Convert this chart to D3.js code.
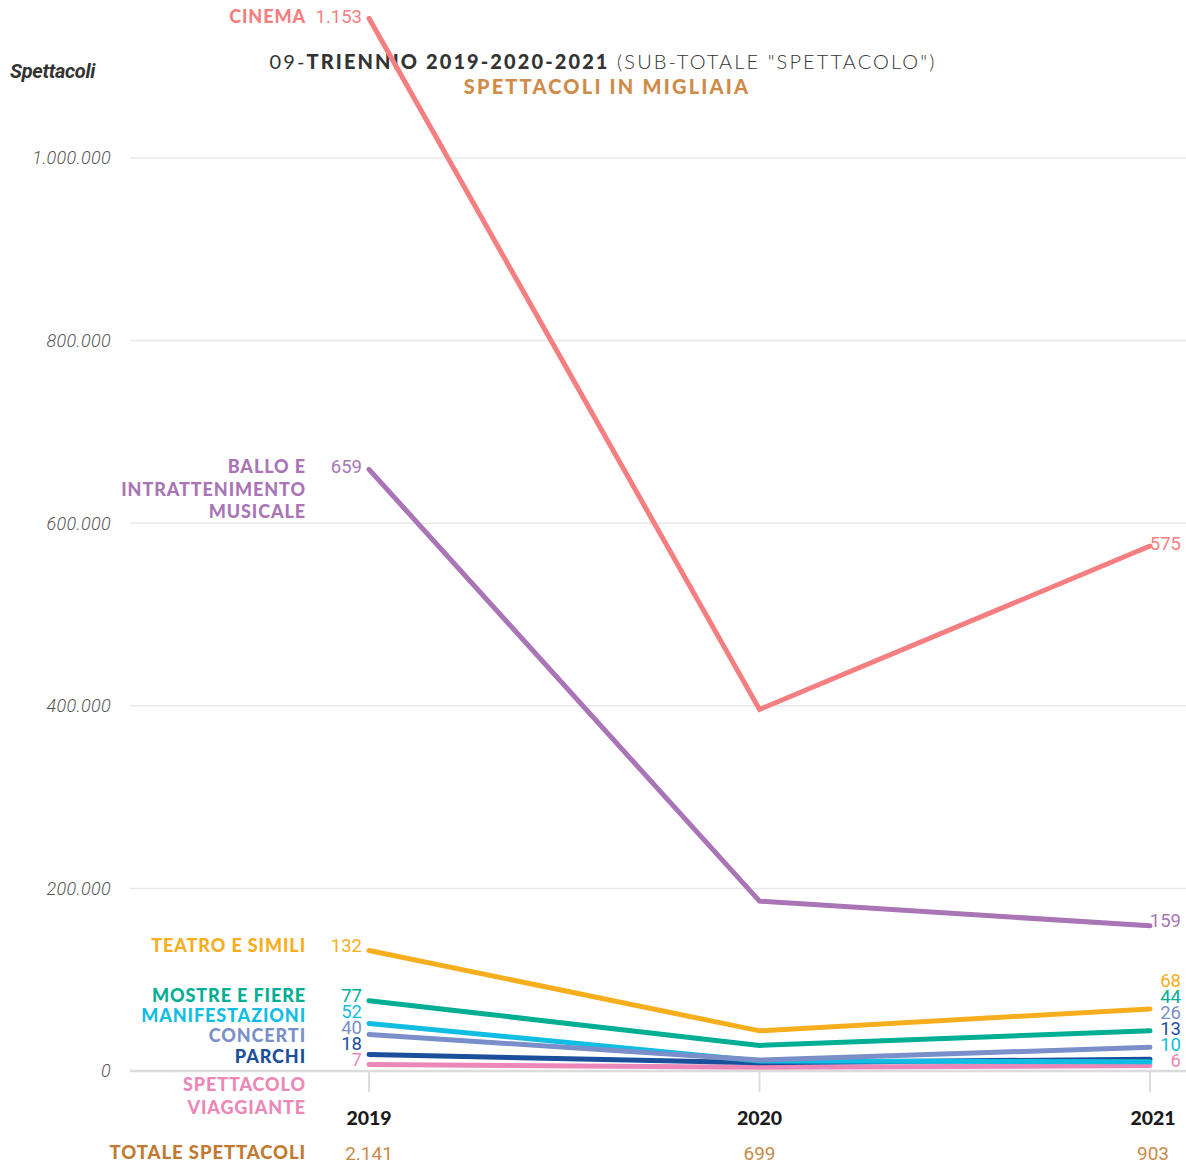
<!DOCTYPE html>
<html><head><meta charset="utf-8">
<script src="https://cdn.jsdelivr.net/npm/d3@7"></script>
<style>
body{margin:0;background:#fff;}
svg{display:block;}
</style></head>
<body>
<svg id="chart" width="1186" height="1164"></svg>
<script>
// ---- DATA ----
const years = ["2019", "2020", "2021"];
const categories = ["Cinema", "Ballo e intrattenimento musicale", "Teatro e simili", "Mostre e fiere", "Manifestazioni", "Concerti", "Parchi", "Spettacolo viaggiante"];
const values2019 = [1153000, 659000, 132000, 77000, 52000, 40000, 18000, 7000];
const values2020 = [396000, 186000, 44000, 28000, 11000, 12000, 9000, 4000];
const values2021 = [575000, 159000, 68000, 44000, 10000, 26000, 13000, 6000];
const totals = ["2.141", "699", "903"];
const yTicks = [0, 200000, 400000, 600000, 800000, 1000000];
const yTickLabels = ["0", "200.000", "400.000", "600.000", "800.000", "1.000.000"];

// ---- STYLE / LAYOUT ----
const colors = ["#f47e80", "#a975b6", "#f6ae1c", "#00ae94", "#10bde3", "#7a8fc9", "#1b4e9b", "#eb88b8"];
const drawOrder = [7, 6, 4, 5, 3, 2, 1, 0];
const leftNameLines = [["CINEMA"], ["BALLO E", "INTRATTENIMENTO", "MUSICALE"], ["TEATRO E SIMILI"], ["MOSTRE E FIERE"], ["MANIFESTAZIONI"], ["CONCERTI"], ["PARCHI"], ["SPETTACOLO", "VIAGGIANTE"]];
const leftNameY = [17, 467, 946, 996, 1016, 1036, 1057, 1085];
const leftValY = [17, 467, 946, 996, 1012, 1028, 1044, 1060];
const rightValY = [544, 921, 981, 997, 1013, 1029, 1045, 1061];
const rightOrder = [0, 1, 2, 3, 5, 6, 4, 7];

const svg = d3.select("#chart");
const x = d3.scalePoint().domain(years).range([369, 1150]);
const y = d3.scaleLinear().domain([0, 1000000]).range([1071, 158]);

// gridlines
svg.append("g").selectAll("line").data(yTicks).join("line")
  .attr("x1", 130).attr("x2", 1186)
  .attr("y1", d => y(d)).attr("y2", d => y(d))
  .attr("stroke", d => d === 0 ? "#dcdcdc" : "#e8e8e8")
  .attr("stroke-width", d => d === 0 ? 2.5 : 1.5);

// y tick labels
svg.append("g").selectAll("text").data(yTicks).join("text")
  .attr("x", 111).attr("y", d => y(d)).attr("dy", "0.35em")
  .attr("text-anchor", "end")
  .attr("font-family", "Roboto").attr("font-style", "italic").attr("font-weight", 300)
  .attr("font-size", 18).attr("fill", "#555").attr("letter-spacing", 0.3)
  .text((d, i) => yTickLabels[i]);

// vertical ticks at years
svg.append("g").selectAll("line").data(years).join("line")
  .attr("x1", d => x(d)).attr("x2", d => x(d))
  .attr("y1", y(0)).attr("y2", y(0) + 21)
  .attr("stroke", "#dcdcdc").attr("stroke-width", 2);

// axis label
svg.append("text").attr("x", 10).attr("y", 71).attr("dy", "0.35em")
  .attr("font-family", "Roboto").attr("font-style", "italic").attr("font-weight", 700)
  .attr("font-size", 20).attr("fill", "#333").attr("letter-spacing", -0.3)
  .text("Spettacoli");

// title
const title = svg.append("text").attr("x", 603).attr("y", 62).attr("dy", "0.35em")
  .attr("text-anchor", "middle").attr("font-family", "Lato").attr("font-size", 20)
  .attr("fill", "#333").attr("letter-spacing", 2.1);
title.append("tspan").attr("font-weight", 400).text("09-");
title.append("tspan").attr("font-weight", 900).text("TRIENNIO 2019-2020-2021");
title.append("tspan").attr("font-weight", 300).text(" (SUB-TOTALE \"SPETTACOLO\")");
svg.append("text").attr("x", 607).attr("y", 87).attr("dy", "0.35em")
  .attr("text-anchor", "middle").attr("font-family", "Lato").attr("font-weight", 900)
  .attr("font-size", 20).attr("fill", "#cf8b48").attr("letter-spacing", 2.2)
  .text("SPETTACOLI IN MIGLIAIA");

// lines
const series = categories.map((c, i) => ({ i, vals: [values2019[i], values2020[i], values2021[i]] }));
const line = d3.line().x((d, j) => x(years[j])).y(d => y(d));
svg.append("g").selectAll("path").data(drawOrder.map(i => series[i])).join("path")
  .attr("d", d => line(d.vals))
  .attr("fill", "none").attr("stroke", d => colors[d.i])
  .attr("stroke-width", 5).attr("stroke-linecap", "round").attr("stroke-linejoin", "miter");

// left name labels
const fmt = v => {
  const k = Math.round(v / 1000);
  return k >= 1000 ? d3.format(",")(k).replace(/,/g, ".") : String(k);
};
categories.forEach((c, i) => {
  const t = svg.append("text").attr("x", 306).attr("text-anchor", "end")
    .attr("font-family", "Lato").attr("font-weight", 900).attr("font-size", 18)
    .attr("fill", colors[i]).attr("letter-spacing", 0.9);
  leftNameLines[i].forEach((ln, k) => {
    t.append("tspan").attr("x", 306).attr("y", leftNameY[i] + k * 22.5).attr("dy", "0.35em").text(ln);
  });
  svg.append("text").attr("x", 362).attr("y", leftValY[i]).attr("dy", "0.35em")
    .attr("text-anchor", "end").attr("font-family", "Roboto").attr("font-weight", 400)
    .attr("font-size", 18.5).attr("fill", colors[i]).text(fmt(values2019[i]));
});

// right value labels
rightOrder.forEach((i, k) => {
  svg.append("text").attr("x", 1181).attr("y", rightValY[k]).attr("dy", "0.35em")
    .attr("text-anchor", "end").attr("font-family", "Roboto").attr("font-weight", 400)
    .attr("font-size", 18.5).attr("fill", colors[i]).text(fmt(values2021[i]));
});

// year labels
svg.append("g").selectAll("text").data(years).join("text")
  .attr("x", (d, j) => x(d) + (j === 2 ? 3 : 0)).attr("y", 1118).attr("dy", "0.35em")
  .attr("text-anchor", "middle").attr("font-family", "Lato").attr("font-weight", 900)
  .attr("font-size", 19.5).attr("fill", "#1a1a1a").text(d => d);

// totals
svg.append("text").attr("x", 306).attr("y", 1153).attr("dy", "0.35em")
  .attr("text-anchor", "end").attr("font-family", "Lato").attr("font-weight", 900)
  .attr("font-size", 18.5).attr("fill", "#c17a32").attr("letter-spacing", 0.9).text("TOTALE SPETTACOLI");
svg.append("g").selectAll("text").data(years).join("text")
  .attr("x", (d, j) => x(d) + (j === 2 ? 3 : 0)).attr("y", 1153).attr("dy", "0.35em")
  .attr("text-anchor", "middle").attr("font-family", "Roboto").attr("font-weight", 400)
  .attr("font-size", 19).attr("fill", "#c98a4a").text((d, j) => totals[j]);
</script>
</body></html>
